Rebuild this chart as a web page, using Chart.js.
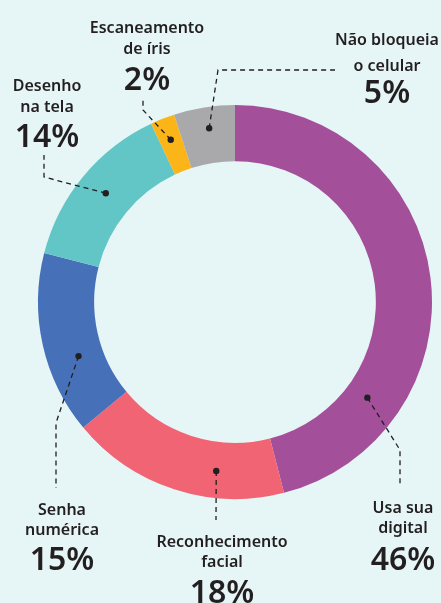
<!DOCTYPE html>
<html>
<head>
<meta charset="utf-8">
<script src="https://cdn.jsdelivr.net/npm/chart.js@4.4.0/dist/chart.umd.min.js"></script>
<style>
    body { margin: 0; background: #e6f5f6; }
    #wrap { width: 441px; height: 603px; }
</style>
</head>
<body>
<div id="wrap"><canvas id="chart" width="441" height="603"></canvas></div>
<script>
// data
var categories = ['Usa sua digital', 'Reconhecimento facial', 'Senha numérica', 'Desenho na tela', 'Escaneamento de íris', 'Não bloqueia o celular'];
var labelLines = [['Usa sua', 'digital'], ['Reconhecimento', 'facial'], ['Senha', 'numérica'], ['Desenho', 'na tela'], ['Escaneamento', 'de íris'], ['Não bloqueia', 'o celular']];
var values = [46, 18, 15, 14, 2, 5];
var colors = ['#a34f9a', '#f06473', '#4670b8', '#62c6c6', '#fbb519', '#a9a9ac'];

// where each callout sits: dot position along the slice (fraction of angle, fraction of ring),
// leader path points after the dot, and text block
var callouts = [
    { f: 0.76, rf: 0.40, path: [[400, 450], [400, 487]], x: 403, y: [513, 533], py: 570 },
    { f: 0.32, rf: 0.52, path: [[216, 520]], x: 222, y: [547, 567], py: 603 },
    { f: 0.38, rf: 0.44, path: [[56, 423], [56, 488]], x: 62, y: [515, 535], py: 570 },
    { f: 0.51, rf: 0.50, path: [[44, 177], [44, 155]], x: 47, y: [91, 112], py: 147 },
    { f: 0.50, rf: 0.60, path: [[143, 110], [143, 97]], x: 147, y: [33, 54], py: 90 },
    { f: 0.53, rf: 0.62, path: [[218, 70], [335, 70]], x: 387, y: [45, 71], py: 103 }
];

var calloutPlugin = {
    id: 'callouts',
    afterDatasetsDraw: function (chart) {
        var ctx = chart.ctx;
        var arcs = chart.getDatasetMeta(0).data;
        ctx.save();
        ctx.fillStyle = '#231f20';
        ctx.strokeStyle = '#231f20';
        for (var i = 0; i < arcs.length; i++) {
            var a = arcs[i], c = callouts[i];
            var ang = a.startAngle + c.f * (a.endAngle - a.startAngle);
            var r = a.innerRadius + c.rf * (a.outerRadius - a.innerRadius);
            var px = a.x + r * Math.cos(ang), py = a.y + r * Math.sin(ang);

            ctx.lineWidth = 1.3;
            ctx.setLineDash([5, 4]);
            ctx.beginPath();
            ctx.moveTo(px, py);
            c.path.forEach(function (p) { ctx.lineTo(p[0], p[1]); });
            ctx.stroke();
            ctx.setLineDash([]);
            ctx.beginPath();
            ctx.arc(px, py, 3.2, 0, Math.PI * 2);
            ctx.fill();

            ctx.textAlign = 'center';
            ctx.textBaseline = 'alphabetic';
            ctx.font = '600 16px "Noto Sans"';
            ctx.fillText(labelLines[i][0], c.x, c.y[0]);
            ctx.fillText(labelLines[i][1], c.x, c.y[1]);
            ctx.font = '600 32px "Noto Sans"';
            ctx.fillText(values[i] + '%', c.x, c.py);
        }
        ctx.restore();
    }
};

new Chart(document.getElementById('chart'), {
    type: 'doughnut',
    data: {
        labels: categories,
        datasets: [{
            data: values,
            backgroundColor: colors,
            borderWidth: 0
        }]
    },
    options: {
        responsive: false,
        animation: false,
        cutout: '71.5%',
        layout: { padding: { left: 38, right: 9, top: 105, bottom: 104 } },
        plugins: {
            legend: { display: false },
            tooltip: { enabled: false }
        }
    },
    plugins: [calloutPlugin]
});
</script>
</body>
</html>
